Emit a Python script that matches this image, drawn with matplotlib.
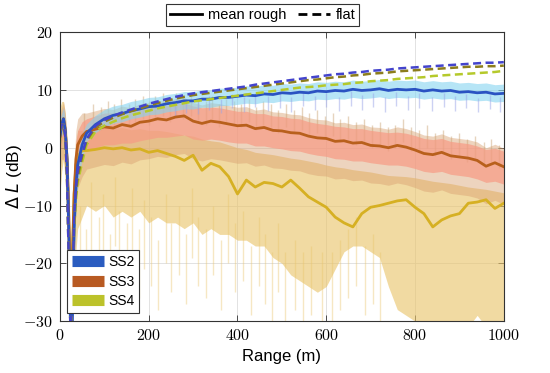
import matplotlib
matplotlib.use("Agg")
import matplotlib.pyplot as plt
from matplotlib.lines import Line2D
from matplotlib.ticker import FuncFormatter
import numpy as np

plt.rcParams['font.family'] = ['Liberation Sans', 'DejaVu Sans']
plt.rcParams['mathtext.fontset'] = 'cm'

# Range grid (m)
rng = [0, 4, 8, 12, 16, 20, 24, 28, 32, 36, 40, 50,
       60, 80, 100, 120, 140, 160, 180, 200, 220, 240, 260, 280, 300, 320, 340, 360,
       380, 400, 420, 440, 460, 480, 500, 520, 540, 560, 580, 600, 620, 640, 660, 680,
       700, 720, 740, 760, 780, 800, 820, 840, 860, 880, 900, 920, 940, 960, 980, 1000]

# SS2 mean rough and band
ss2_mean = [2, 4, 5, 3, -2, -15, -32, -30, -14, -7, -3, 0.5,
            2.5, 4.0, 5.0, 5.6, 5.9, 6.4, 6.7, 7.1, 7.2, 7.6, 7.8, 8.1, 8.1, 8.4, 8.4, 8.7,
            8.7, 8.9, 9.1, 9.0, 9.3, 9.2, 9.5, 9.4, 9.6, 9.5, 9.8, 9.7, 9.9, 9.8, 10.1, 9.9,
            10.0, 10.2, 9.9, 10.1, 10.0, 10.1, 9.8, 10.0, 9.8, 9.9, 9.6, 9.7, 9.5, 9.6, 9.3, 9.4]
ss2_hi = [5, 6, 7, 5, 0, -10, -28, -26, -10, -4, -1, 2.5,
          4.1, 5.6, 6.6, 7.2, 7.5, 8.0, 8.3, 8.7, 8.8, 9.2, 9.4, 9.7, 9.7, 10.0, 10.0, 10.3,
          10.3, 10.5, 10.7, 10.6, 10.9, 10.8, 11.1, 11.0, 11.2, 11.1, 11.4, 11.3, 11.5, 11.4, 11.7, 11.5,
          11.6, 11.8, 11.5, 11.7, 11.6, 11.7, 11.4, 11.6, 11.4, 11.5, 11.2, 11.3, 11.1, 11.2, 10.9, 11.0]
ss2_lo = [0, 2, 3, 1, -5, -20, -34, -34, -18, -10, -6, -2,
          1.1, 2.6, 3.6, 4.2, 4.5, 5.0, 5.3, 5.7, 5.8, 6.2, 6.4, 6.7, 6.7, 7.0, 7.0, 7.3,
          7.3, 7.5, 7.7, 7.6, 7.9, 7.8, 8.1, 8.0, 8.2, 8.1, 8.4, 8.3, 8.5, 8.4, 8.7, 8.5,
          8.6, 8.8, 8.5, 8.7, 8.6, 8.7, 8.4, 8.6, 8.4, 8.5, 8.2, 8.3, 8.1, 8.2, 7.9, 8.0]
ss2_spk_x = [260, 285, 310, 335, 362, 388, 415, 440, 468, 495, 520, 548, 575, 600, 628,
             655, 680, 705, 732, 758, 785, 810, 838, 865, 890, 915, 942, 968, 992]
ss2_spk_y = [5.5, 6.0, 5.8, 6.5, 6.0, 6.8, 6.2, 7.0, 6.4, 6.9, 6.2, 7.2, 6.5, 7.0, 6.3,
             7.3, 6.6, 7.0, 6.2, 7.2, 6.5, 6.9, 6.3, 7.0, 6.4, 6.8, 6.1, 6.7, 6.2]

# SS3 mean rough and bands
ss3_mean = [2, 4, 5, 3, -2, -12, -28, -20, -8, -2, 0.5, 2,
            2.8, 3.2, 3.6, 3.4, 4.0, 3.7, 4.4, 4.6, 5.0, 4.8, 5.3, 5.5, 4.6, 4.2, 4.6, 4.4,
            4.1, 3.8, 3.9, 3.3, 3.5, 3.0, 2.9, 2.6, 2.5, 2.0, 1.7, 1.6, 1.1, 1.2, 0.8, 0.9,
            0.4, 0.3, 0.0, 0.4, 0.1, -0.4, -1.0, -1.2, -0.8, -1.4, -1.6, -1.8, -2.2, -3.2, -2.6, -3.3]
ss3_in_hi = [5, 6, 7, 5, 0, -8, -24, -16, -4, 1, 3, 4.5,
             5.0, 5.5, 6.0, 6.0, 6.3, 6.3, 6.8, 7.0, 7.3, 7.3, 7.6, 7.8, 7.2, 6.9, 7.0, 6.9,
             6.6, 6.3, 6.3, 5.9, 5.9, 5.5, 5.4, 5.1, 5.0, 4.5, 4.2, 4.0, 3.7, 3.6, 3.3, 3.3,
             3.0, 2.8, 2.6, 2.7, 2.5, 2.1, 1.6, 1.4, 1.6, 1.1, 0.9, 0.7, 0.3, -0.3, -0.1, -0.6]
ss3_in_lo = [-1, 1, 2, 0, -5, -16, -32, -24, -12, -5, -2, -0.5,
             -0.5, 0, 0.5, 0.5, 0.8, 0.8, 1.2, 1.5, 1.8, 1.8, 2.0, 2.2, 1.5, 1.3, 1.5, 1.3,
             1.0, 0.8, 0.8, 0.3, 0.3, 0, -0.2, -0.5, -0.6, -1.0, -1.3, -1.5, -1.9, -2.0, -2.3, -2.3,
             -2.6, -2.8, -3.0, -3.0, -3.2, -3.6, -4.1, -4.3, -4.1, -4.6, -4.8, -5.0, -5.4, -6.0, -5.8, -6.3]
ss3_out_hi = [6, 7, 8, 6, 1, -6, -22, -14, -2, 3, 5, 6,
              6.0, 6.4, 6.8, 6.6, 7.2, 6.9, 7.6, 7.8, 8.2, 8.0, 8.5, 8.7, 7.8, 7.4, 7.8, 7.6,
              7.3, 7.0, 7.1, 6.5, 6.7, 6.2, 6.1, 5.8, 5.7, 5.2, 4.9, 4.8, 4.3, 4.4, 4.0, 4.1,
              3.6, 3.5, 3.2, 3.6, 3.3, 2.8, 2.2, 2.0, 2.4, 1.8, 1.6, 1.4, 1.0, 0.0, 0.6, -0.1]
ss3_out_lo = [-4, -2, -2, -4, -10, -22, -34, -30, -18, -10, -7, -5,
              -3.7, -3.3, -2.9, -3.1, -2.5, -2.8, -2.1, -1.9, -1.5, -1.7, -1.2, -1.0, -1.9, -2.3, -1.9, -2.1,
              -2.4, -2.7, -2.6, -3.2, -3.0, -3.5, -3.6, -3.9, -4.0, -4.5, -4.8, -4.9, -5.4, -5.3, -5.7, -5.6,
              -6.1, -6.2, -6.5, -6.1, -6.4, -6.9, -7.5, -7.7, -7.3, -7.9, -8.1, -8.3, -8.7, -9.7, -9.1, -9.8]
ss3_spk_x = [55, 75, 92, 108, 122, 138, 155, 170, 186, 200, 215, 232, 248, 262, 278, 295,
             310, 328, 342, 358, 375, 392, 408, 425, 442, 458, 475, 492, 510, 528, 545, 562,
             580, 598, 615, 632, 650, 668, 685, 702, 720, 738, 755, 772, 790, 808, 826, 844,
             862, 880, 900, 918, 936, 955, 972, 990]
ss3_spk_y = [6, 7.5, 7, 8, 7.5, 8.5, 7.5, 8.5, 9, 8, 9, 9.5, 8.5, 9.5, 9, 9.5,
             8.5, 8, 9, 7.5, 8.5, 8, 7.5, 8.5, 7, 8, 7.5, 6.5, 7.5, 6.5, 7, 6,
             6.5, 5.5, 6, 5, 5.5, 4.5, 5, 4, 4.5, 3.5, 4, 5, 3.5, 3, 4, 2.5,
             3, 2, 2.5, 1.5, 2, 1, 1.5, 0.5]

# SS4 mean rough and band
ss4_mean = [1, 4, 5, 3, -3, -14, -26, -18, -8, -3, -1.5, -0.5,
            -0.5, -0.3, 0.0, -0.2, 0.0, -0.4, -0.2, -0.8, -0.5, -1.0, -1.5, -2.2, -1.3, -3.9, -2.7, -3.3,
            -5.0, -8.0, -5.6, -6.8, -6.0, -6.2, -6.8, -5.6, -7.0, -8.5, -9.4, -10.3, -12.0, -13.0, -13.7, -11.4,
            -10.3, -10.0, -9.6, -9.2, -9.0, -10.3, -11.4, -13.7, -12.5, -11.8, -11.4, -9.6, -9.4, -9.0, -10.5, -9.6]
ss4_hi = [7, 8, 8, 6, 2, -6, -20, -12, -3, 1, 3, 3,
          3.0, 3.2, 3.5, 3.3, 3.5, 3.1, 3.3, 3.0, 3.0, 2.8, 2.5, 2.2, 2.0, 1.5, 1.2, 1.0,
          0.5, 0.0, -0.3, -0.8, -1.0, -1.2, -1.5, -1.8, -2.0, -2.3, -2.6, -3.0, -3.3, -3.5, -3.8, -4.0,
          -4.2, -4.5, -4.8, -4.9, -5.0, -5.2, -5.5, -5.8, -6.0, -6.2, -6.5, -6.8, -7.0, -7.2, -7.5, -7.8]
ss4_lo = [-8, -4, -2, -6, -14, -26, -34, -32, -24, -18, -14, -12,
          -10, -11, -10, -12, -11, -12, -11, -13, -12, -13, -13, -14, -13, -15, -14, -15,
          -15, -16, -16, -17, -17, -19, -20, -22, -23, -24, -25, -24, -21, -18, -17, -17,
          -18, -19, -24, -28, -29, -30, -30, -31, -30, -31, -30, -31, -29, -31, -30, -31]
ss4_spk_x = [45, 58, 70, 88, 97, 112, 125, 133, 150, 163, 178, 190, 205, 222, 238, 250,
             268, 283, 297, 312, 330, 345, 362, 378, 395, 412, 430, 448, 462, 478, 492, 508,
             530, 548, 565, 590, 612, 632, 648, 668, 688, 705, 722]
ss4_spk_y = [-22, -26, -18, -24, -20, -27, -17, -23, -25, -19, -26, -21, -24, -28, -20, -25,
             -22, -27, -19, -24, -26, -22, -28, -20, -25, -23, -29, -24, -27, -30, -25, -30,
             -28, -30, -29, -30, -30, -28, -26, -24, -29, -27, -30]

# Flat-surface curves
ss2_flat = [3, 4, 4, 2, -5, -20, -32, -25, -12, -7, -4, -1,
            1.5, 3.8, 4.8, 5.5, 6.1, 6.6, 7.1, 7.6, 8.0, 8.4, 8.8, 9.1, 9.4, 9.6, 9.8, 10.0,
            10.2, 10.4, 10.6, 10.9, 11.1, 11.3, 11.5, 11.7, 11.9, 12.1, 12.3, 12.5, 12.7, 12.8, 13.0, 13.1,
            13.3, 13.4, 13.5, 13.7, 13.8, 13.9, 14.0, 14.1, 14.2, 14.3, 14.4, 14.5, 14.6, 14.7, 14.7, 14.8]
ss3_flat = [3, 4, 4, 2, -5, -20, -32, -26, -13, -8, -5, -1.5,
            1.2, 3.5, 4.5, 5.2, 5.8, 6.3, 6.8, 7.3, 7.7, 8.1, 8.5, 8.8, 9.1, 9.3, 9.5, 9.7,
            9.9, 10.1, 10.3, 10.5, 10.7, 10.9, 11.1, 11.3, 11.5, 11.7, 11.8, 12.0, 12.2, 12.3, 12.5, 12.6,
            12.8, 12.9, 13.0, 13.2, 13.3, 13.4, 13.5, 13.6, 13.7, 13.8, 13.9, 14.0, 14.0, 14.1, 14.1, 14.2]
ss4_flat = [3, 4, 4, 2, -5, -20, -32, -27, -14, -9, -6, -2.5,
            0.5, 2.8, 3.8, 4.5, 5.1, 5.6, 6.0, 6.4, 6.8, 7.1, 7.4, 7.7, 8.0, 8.2, 8.4, 8.6,
            8.8, 9.0, 9.2, 9.4, 9.6, 9.8, 10.0, 10.2, 10.4, 10.5, 10.6, 10.8, 10.9, 11.0, 11.2, 11.3,
            11.5, 11.6, 11.7, 11.9, 12.0, 12.1, 12.2, 12.4, 12.5, 12.6, 12.7, 12.8, 12.9, 13.0, 13.1, 13.3]

series_labels = ['SS2', 'SS3', 'SS4']
xticks = [0, 200, 400, 600, 800, 1000]
yticks = [-30, -20, -10, 0, 10, 20]

fig = plt.figure(figsize=(5.5, 3.73), dpi=100)
ax = fig.add_axes([0.109, 0.139, 0.807, 0.775])

# SS4 band
c4 = '#e9c46a'
ax.fill_between(rng, ss4_lo, ss4_hi, color=c4, alpha=0.62, lw=0, zorder=1)
ax.vlines(ss4_spk_x, np.array(ss4_spk_y), np.array(ss4_spk_y) + 12, color=c4, alpha=0.4,
          lw=1.0, zorder=1)
# SS3 bands
c3o = '#d9a070'
ax.fill_between(rng, ss3_out_lo, ss3_out_hi, color=c3o, alpha=0.45, lw=0, zorder=2)
ax.vlines(ss3_spk_x, np.array(ss3_spk_y) - 4, ss3_spk_y, color='#c8a070', alpha=0.45,
          lw=1.0, zorder=2)
ax.fill_between(rng, ss3_in_lo, ss3_in_hi, color='#f79a84', alpha=0.7, lw=0, zorder=3)
# SS2 band
ax.fill_between(rng, ss2_lo, ss2_hi, color='#86d4f0', alpha=0.6, lw=0, zorder=4)
ax.vlines(ss2_spk_x, ss2_spk_y, np.array(ss2_spk_y) + 2.5, color='#9aa4e8', alpha=0.5,
          lw=1.0, zorder=4)

# mean rough lines
c_mean = ['#2a52c2', '#b8601c', '#d6b023']
ax.plot(rng, ss4_mean, color=c_mean[2], lw=2.0, zorder=5)
ax.plot(rng, ss3_mean, color=c_mean[1], lw=2.0, zorder=5)
ax.plot(rng, ss2_mean, color=c_mean[0], lw=2.0, zorder=5)

# flat lines
dash = (3.2, 1.8)
ax.plot(rng, ss4_flat, color='#b5c92b', lw=1.8, dashes=dash, zorder=6)
ax.plot(rng, ss3_flat, color='#8c7d1c', lw=1.8, dashes=dash, zorder=6)
ax.plot(rng, ss2_flat, color='#4444cc', lw=1.8, dashes=dash, zorder=6)

ax.set_xlim(0, 1000)
ax.set_ylim(-30, 20)
ax.set_xticks(xticks)
ax.set_yticks(yticks)
fmt = FuncFormatter(lambda v, p: r'$%d$' % v)
ax.xaxis.set_major_formatter(fmt)
ax.yaxis.set_major_formatter(fmt)
ax.tick_params(direction='in', top=True, right=True, length=4, width=0.6,
               labelsize=11.5, color='#333333', pad=5)
ax.grid(True, color='#dddddd', lw=0.6, zorder=0)
ax.set_axisbelow(True)
for s in ax.spines.values():
    s.set_color('#333333')
    s.set_linewidth(0.8)
    s.set_zorder(10)

ax.set_xlabel('Range (m)', fontsize=12)
ax.set_ylabel(r'$\Delta$ $L$ (dB)', fontsize=12.5, math_fontfamily='dejavusans')
ax.yaxis.set_label_coords(-0.08, 0.5)

# lower-left legend
handles = [Line2D([], [], color=c, lw=8, solid_capstyle='butt')
           for c in ['#2a5cc0', '#b85a22', '#bcc22a']]
leg = ax.legend(handles, series_labels, loc='lower left', bbox_to_anchor=(0.016, 0.028),
                borderaxespad=0, fontsize=10, handlelength=2.3, handletextpad=0.3,
                labelspacing=0.4, borderpad=0.35, fancybox=False, framealpha=1,
                edgecolor='#333333')
leg.get_frame().set_linewidth(0.8)
leg.set_zorder(20)

# top legend
th = [Line2D([], [], color='black', lw=2),
      Line2D([], [], color='black', lw=2, dashes=(3.2, 1.8))]
tleg = fig.legend(th, ['mean rough', 'flat'], loc='center', bbox_to_anchor=(262.5 / 550, 1 - 15 / 373),
                  ncol=2, fontsize=10.5, handlelength=2.2, handletextpad=0.4, columnspacing=0.8,
                  borderpad=0.25, fancybox=False, framealpha=1, edgecolor='#333333')
tleg.get_frame().set_linewidth(0.8)

fig.savefig('out.png', dpi=100)
